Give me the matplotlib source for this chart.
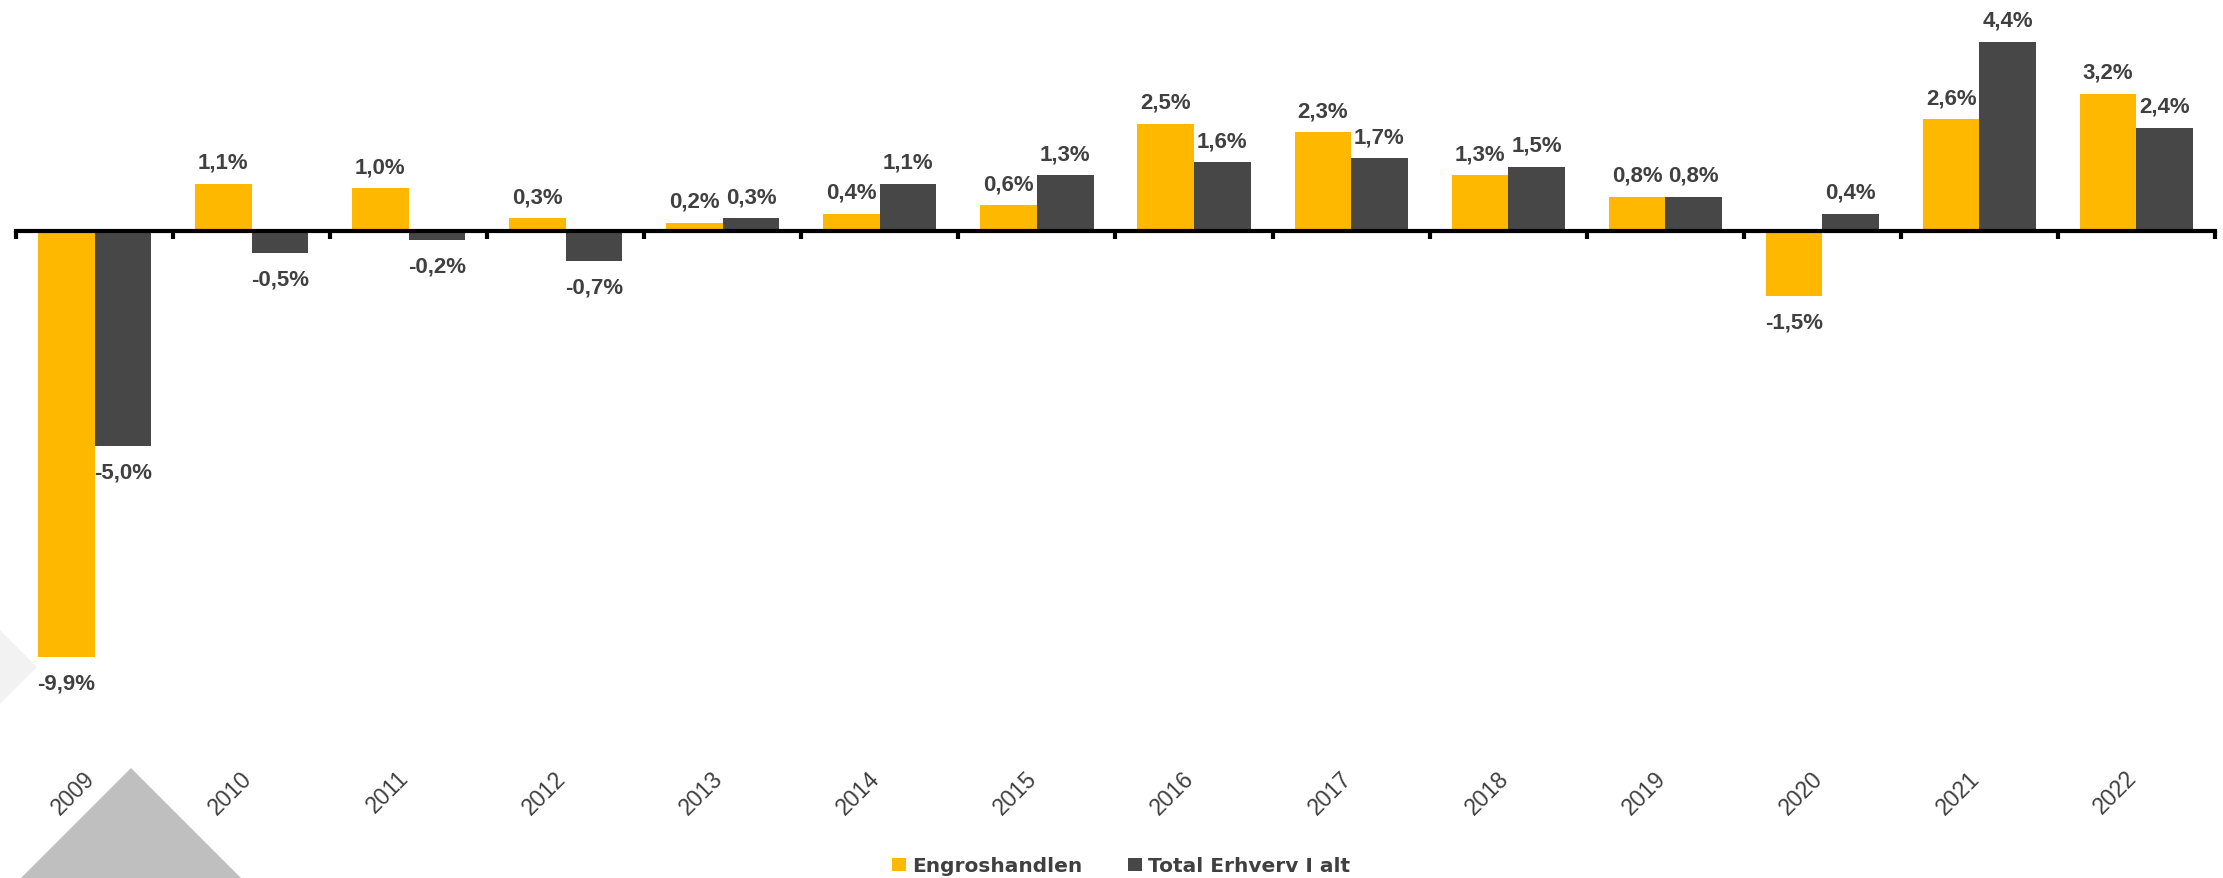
import numpy as np
import matplotlib
matplotlib.use("Agg")
import matplotlib.pyplot as plt
from matplotlib.patches import Polygon

# data
years = ["2009", "2010", "2011", "2012", "2013", "2014", "2015",
         "2016", "2017", "2018", "2019", "2020", "2021", "2022"]
engros = [-9.9, 1.1, 1.0, 0.3, 0.2, 0.4, 0.6, 2.5, 2.3, 1.3, 0.8, -1.5, 2.6, 3.2]
total = [-5.0, -0.5, -0.2, -0.7, 0.3, 1.1, 1.3, 1.6, 1.7, 1.5, 0.8, 0.4, 4.4, 2.4]
series_names = ["Engroshandlen", "Total Erhverv I alt"]

YELLOW = "#FFB800"
DARK = "#474747"
TXT = "#404040"

W, H = 2223, 879
fig = plt.figure(figsize=(W / 100, H / 100), dpi=100)
plt.rcParams['font.family'] = ['Liberation Sans', 'DejaVu Sans']


def fpx(x, y):
    return (x / W, 1 - y / H)


# decorative grey shapes behind the chart
fig.patches.append(Polygon([fpx(131, 769), fpx(241, 879), fpx(21, 879)], closed=True,
                           transform=fig.transFigure, facecolor="#BFBFBF", edgecolor="none", zorder=0))
fig.patches.append(Polygon([fpx(0, 631), fpx(37, 668), fpx(0, 705)], closed=True,
                           transform=fig.transFigure, facecolor="#F2F2F2", edgecolor="none", zorder=0))

ax = fig.add_axes([16 / W, 1 - 701 / H, (2215 - 16) / W, 701 / H])
ax.patch.set_alpha(0)

x = np.arange(len(years))
bw = 0.36
b1 = ax.bar(x - bw / 2, engros, bw, color=YELLOW, label=series_names[0], zorder=2)
b2 = ax.bar(x + bw / 2, total, bw, color=DARK, label=series_names[1], zorder=2)

for bars, vals in [(b1, engros), (b2, total)]:
    for rect, v in zip(bars, vals):
        lab = f"{v:.1f}%".replace(".", ",")
        cx = rect.get_x() + rect.get_width() / 2
        if v >= 0:
            ax.annotate(lab, (cx, v), xytext=(0, 8), textcoords="offset points",
                        ha="center", va="bottom", fontsize=16, fontweight="bold", color=TXT)
        else:
            ax.annotate(lab, (cx, v), xytext=(0, -11), textcoords="offset points",
                        ha="center", va="top", fontsize=16, fontweight="bold", color=TXT)

ax.set_xlim(-0.5, len(years) - 0.5)
ax.set_ylim(-10.9, 5.4)

for s in ["top", "right", "left"]:
    ax.spines[s].set_visible(False)
ax.spines["bottom"].set_position(("data", 0))
ax.spines["bottom"].set_linewidth(3)
ax.spines["bottom"].set_color("black")
ax.spines["bottom"].set_zorder(3)
ax.set_yticks([])
ax.set_xticks(x)
ax.set_xticklabels([])
ax.tick_params(axis="x", which="major", length=0)
ax.set_xticks(np.arange(-0.5, len(years)), minor=True)
ax.tick_params(axis="x", which="minor", direction="out", length=6, width=3, color="black")

# category labels placed low, below the plot area
for xi, yr in zip(x, years):
    ax.text(xi + 0.03, -0.094, yr, transform=ax.get_xaxis_transform(), rotation=45,
            ha="right", va="top", fontsize=16.5, color=TXT)

leg = fig.legend(handles=[b1, b2], loc="center", bbox_to_anchor=(1121 / W, 1 - 867 / H), ncol=2,
                 frameon=False, handlelength=0.66, handleheight=0.66, handletextpad=0.3,
                 columnspacing=2.3, prop={"family": "DejaVu Sans", "weight": "bold", "size": 14.5})
for t in leg.get_texts():
    t.set_color(TXT)

fig.savefig("out.png", dpi=100)
